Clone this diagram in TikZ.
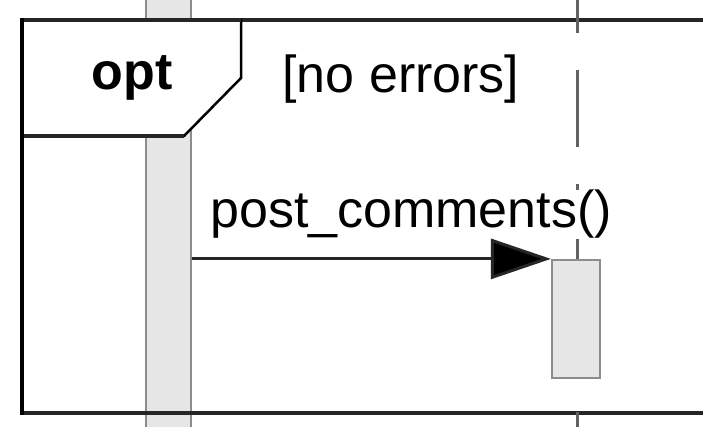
\documentclass[tikz,border=0pt]{standalone}
\usepackage{fontspec}
\setmainfont{Liberation Sans}
\usetikzlibrary{arrows.meta}

\definecolor{actfill}{HTML}{E6E6E6}
\definecolor{actline}{HTML}{8C8C8C}
\definecolor{frameline}{HTML}{262626}

\tikzset{
  actbox/.style={draw=actline,fill=actfill,line width=2.2pt,inner sep=0pt},
  msglabel/.style={inner sep=0pt,fill=white},
}

\begin{document}
\begin{tikzpicture}[x=1pt,y=-1pt,font=\fontsize{52}{60}\selectfont,>={Triangle[length=60pt,width=40pt,fill=black]}]
  \useasboundingbox (0,0) rectangle (703,427);
  \clip (0,0) rectangle (703,427);
  % caller's activation, full height
  \node[actbox,minimum width=45pt,minimum height=440pt] (callerbar) at (168.5,213.5) {};
  % opt fragment
  \draw[frameline,line width=3.5pt] (22,20) rectangle (720,413);
  \filldraw[fill=white,draw=black,line width=2.5pt] (22,20) -- (241,20) -- (241,78) -- (184,136) -- (22,136);
  \draw[frameline,line width=3.5pt] (22,20) -- (241,20) (22,136) -- (184,136);
  \draw[black,line width=3.5pt] (22,18) -- (22,415);
  \node[anchor=base,font=\fontsize{52}{60}\selectfont\bfseries] (optlabel) at (132,90) {opt};
  \node[anchor=base] (guard) at (401,93) {[no errors]};
  % callee lifeline
  \coordinate (calleetop) at (577,0);
  \coordinate (calleebot) at (577,427);
  \draw[actline!70!black,line width=3pt,dash pattern=on 77pt off 37pt,dash phase=44pt] (calleetop) -- (calleebot);
  \node[msglabel,anchor=base west] (msg) at (210,228) {post\_comments()};
  \node[actbox,minimum width=48pt,minimum height=118pt] (calleeact) at (576,319) {};
  \coordinate (callstart) at (callerbar.east |- calleeact.north);
  \draw[->,frameline,line width=3pt] (callstart) -- (calleeact.north west);
\end{tikzpicture}
\end{document}
